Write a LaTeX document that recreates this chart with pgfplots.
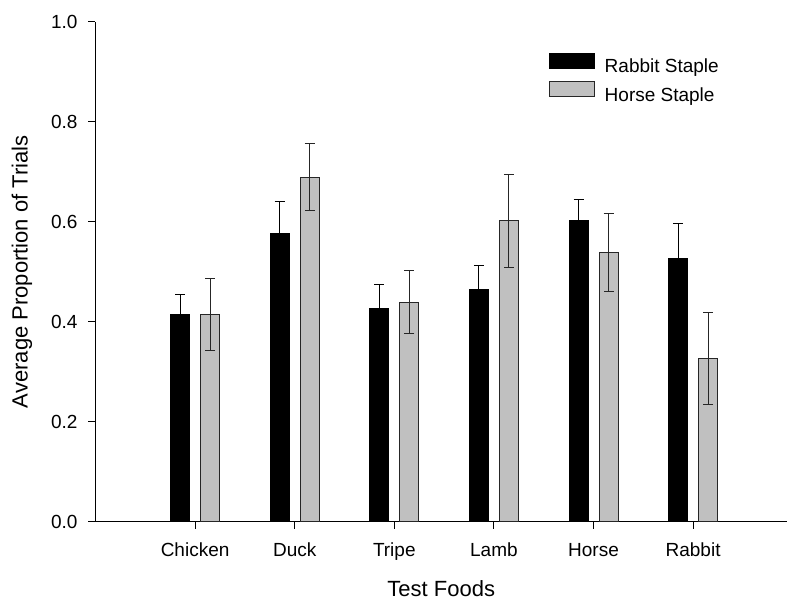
\documentclass[border=0pt]{standalone}
\usepackage{pgfplots}
\pgfplotsset{compat=1.18}
\usepackage{fontspec}
\setmainfont{Liberation Sans}
\definecolor{barg}{RGB}{192,192,192}
\begin{document}
\begin{tikzpicture}
\begin{axis}[
  name=ax,
  x=99.6pt, y=500pt,
  xmin=-1, xmax=5.943, ymin=0, ymax=1,
  axis x line=bottom, axis y line=left,
  axis line style={-, line width=1.2pt, black},
  tick align=outside, major tick length=7pt,
  tick style={line width=1.1pt, black},
  xtick={0,1,2,3,4,5},
  xticklabels={Chicken,Duck,Tripe,Lamb,Horse,Rabbit},
  ytick={0,0.2,0.4,0.6,0.8,1.0},
  yticklabels={0.0,0.2,0.4,0.6,0.8,1.0},
  ticklabel style={font=\fontsize{19}{19}\selectfont, inner sep=0pt},
  xticklabel style={anchor=north, yshift=-14.3pt},
  yticklabel style={anchor=east, xshift=-10.8pt},
  xlabel={Test Foods},
  ylabel={Average Proportion of Trials},
  xlabel style={font=\fontsize{22}{22}\selectfont, at={(axis description cs:0.5,-0.1506)}, anchor=base, inner sep=0pt},
  ylabel style={font=\fontsize{22}{22}\selectfont, at={(axis description cs:-0.0911,0.5)}, anchor=south, rotate=0, inner sep=0pt},
  legend cell align=left,
  legend image code/.code={\draw[#1] (0pt,-1.7pt) rectangle (45pt,13.3pt);},
  legend style={draw=none, fill=none, at={(axis description cs:0.6554,0.938)}, anchor=north west,
    inner sep=0pt, row sep=7pt, column sep=10pt, nodes={inner sep=0pt},
    font=\fontsize{19}{19}\selectfont},
  clip=false,
]
\addplot[ybar, bar width=19pt, bar shift=0pt, fill=black, draw=black, line width=0.8pt,
  error bars/.cd, y dir=both, y explicit,
  error bar style={line width=1pt, black},
  error mark options={rotate=90, mark size=5pt, line width=1pt, black}]
  coordinates {
  (-0.1506,0.414) +- (0,0.041)
  (0.8494,0.577) +- (0,0.064)
  (1.8494,0.427) +- (0,0.048)
  (2.8494,0.465) +- (0,0.048)
  (3.8494,0.602) +- (0,0.042)
  (4.8494,0.527) +- (0,0.070)
  };
\addlegendentry{Rabbit Staple}
\addplot[ybar, bar width=19pt, bar shift=0pt, fill=barg, draw=black!85, line width=0.8pt,
  error bars/.cd, y dir=both, y explicit,
  error bar style={line width=1pt, black!85},
  error mark options={rotate=90, mark size=5pt, line width=1pt, black!85}]
  coordinates {
  (0.1506,0.414) +- (0,0.072)
  (1.1506,0.689) +- (0,0.067)
  (2.1506,0.439) +- (0,0.063)
  (3.1506,0.602) +- (0,0.093)
  (4.1506,0.539) +- (0,0.078)
  (5.1506,0.326) +- (0,0.092)
  };
\addlegendentry{Horse Staple}
\end{axis}
\pgfresetboundingbox
\path[use as bounding box] (ax.south west) ++(-95.5pt,-79.3pt) rectangle ++(787pt,601pt);
\end{tikzpicture}
\end{document}
